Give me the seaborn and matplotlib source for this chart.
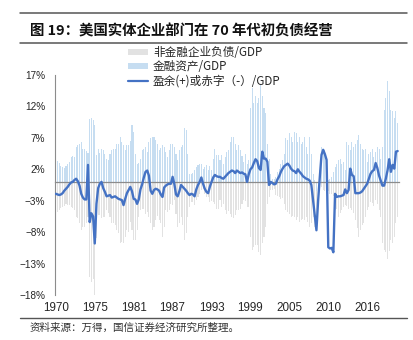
import numpy as np
import pandas as pd
import matplotlib
matplotlib.use("Agg")
import matplotlib.pyplot as plt
import seaborn as sns
from matplotlib.patches import Patch
from matplotlib.lines import Line2D
from matplotlib.font_manager import FontProperties

# Quarterly series, 1970Q1 onwards, in % of GDP
liabilities = [
    -4.8, -4.8, -4.5, -4.2,   # 1970
    -4.0, -3.8, -3.5, -3.7,
    -3.7, -4.0, -4.2, -4.5,
    -5.6, -5.8, -6.6, -7.7,
    -7.2, -7.2, -6.6, -5.6,
    -15.2, -16.0, -15.5, -18.2,  # 1975
    -9.0, -5.3, -5.3, -5.8,
    -5.6, -5.6, -4.5, -5.0,
    -5.6, -6.6, -6.6, -6.8,
    -7.7, -8.2, -9.8, -9.6,
    -9.8, -8.8, -7.7, -8.0,   # 1980
    -6.4, -7.7, -9.3, -9.3,
    -7.7, -5.6, -4.5, -4.3,
    -4.3, -5.1, -4.8, -5.6,
    -6.6, -7.7, -7.2, -6.1,
    -5.5, -6.1, -6.6, -8.8,   # 1985
    -7.2, -4.5, -4.8, -4.5,
    -3.5, -3.7, -2.9, -5.1,
    -7.2, -6.6, -5.6, -6.9,
    -9.3, -8.2, -5.6, -4.0,
    -3.2, -3.2, -3.7, -2.9,   # 1990
    -2.4, -1.9, -1.3, -1.1,
    -2.0, -2.4, -2.4, -3.2,
    -3.0, -3.2, -3.5, -4.3,
    -4.3, -2.9, -4.0, -3.5,
    -4.5, -5.1, -4.6, -5.1,   # 1995
    -5.6, -5.8, -5.3, -4.5,
    -4.5, -4.3, -3.5, -2.9,
    -3.1, -4.0, -4.0, -8.8,
    -10.9, -10.4, -10.1, -10.0,
    -11.2, -11.7, -9.8, -8.8,  # 2000
    -7.2, -3.5, -2.4, -1.3,
    -1.3, -1.2, -2.1, -2.2,
    -2.4, -2.7, -2.5, -3.5,
    -4.5, -4.8, -5.1, -5.6,
    -5.4, -5.6, -6.1, -5.6,   # 2005
    -6.4, -6.1, -5.9, -6.1,
    -5.6, -6.4, -7.2, -6.6,
    -5.6, -7.2, -7.4, -2.4,
    -0.8, -0.8, -1.3, -1.5,
    -0.8, -1.5, -2.0, -2.0,   # 2010
    -2.2, -4.5, -4.3, -5.6,
    -5.0, -4.5, -4.0, -3.7,
    -3.9, -4.3, -4.1, -4.5,
    -5.0, -6.0, -7.4, -8.8,
    -7.7, -6.9, -6.6, -5.6,   # 2015
    -4.5, -4.0, -3.2, -3.4,
    -3.8, -2.9, -3.5, -4.5,
    -5.6, -9.8, -10.9, -11.2,
    -12.2, -11.0, -9.3, -9.8,
    -8.8, -6.6, -5.6,         # 2020
]

fin_assets = [
    3.5, 3.3, 3.0, 2.6,       # 1970
    2.4, 2.2, 2.5, 2.9,
    3.2, 3.9, 4.1, 4.0,
    5.5, 5.8, 6.0, 6.3,
    5.3, 5.2, 4.9, 4.6,
    10.0, 10.2, 9.8, 9.0,     # 1975
    4.2, 5.3, 4.6, 5.2,
    5.0, 4.4, 3.7, 3.5,
    4.5, 5.0, 5.3, 5.3,
    6.1, 6.1, 7.2, 6.4,
    5.8, 5.1, 5.9, 5.9,       # 1980
    6.5, 9.0, 8.0, 4.5,
    2.9, 3.0, 3.7, 5.0,
    5.3, 5.6, 4.8, 6.4,
    6.9, 7.2, 7.2, 6.6,
    6.1, 5.1, 5.4, 5.9,       # 1985
    5.5, 4.8, 4.0, 5.0,
    6.0, 6.0, 5.6, 4.5,
    3.5, 5.0, 5.6, 5.9,
    8.5, 8.2, 4.5, 1.3,
    1.3, 1.4, 1.9, 2.4,       # 1990
    2.7, 2.9, 2.9, 2.1,
    2.4, 2.7, 1.9, 2.6,
    1.9, 3.7, 5.2, 4.3,
    4.3, 3.5, 4.3, 2.9,
    4.0, 4.8, 5.0, 6.4,       # 1995
    7.2, 7.2, 6.1, 5.0,
    5.9, 5.0, 4.1, 3.2,
    4.5, 2.9, 3.5, 11.8,
    14.9, 12.5, 13.6, 12.5,
    13.3, 15.4, 13.6, 11.7,   # 2000
    10.9, 6.1, 3.7, 1.3,
    0.5, 0.5, 0.7, 1.6,
    2.1, 2.9, 3.5, 4.5,
    6.9, 6.6, 7.7, 7.2,
    6.4, 8.0, 7.7, 6.4,       # 2005
    7.2, 6.1, 6.4, 7.2,
    5.6, 4.5, 7.2, 4.5,
    1.3, 0.3, -1.5, -2.0,
    1.9, 5.6, 5.3, 5.1,
    3.5, 0.3, 0.4, 0.8,       # 2010
    1.5, 2.4, 2.9, 3.5,
    3.7, 2.9, 3.2, 1.9,
    6.4, 5.9, 5.1, 6.4,
    5.6, 6.1, 6.6, 7.4,
    6.1, 5.3, 5.1, 5.3,       # 2015
    3.2, 4.5, 4.8, 5.3,
    4.0, 4.8, 5.6, 5.3,
    3.7, 5.6, 11.4, 13.3,
    16.0, 14.4, 11.4, 11.2,
    10.1, 11.2, 9.3,          # 2020
]

surplus = [
    -1.9, -2.0, -2.1, -2.0,   # 1970
    -1.8, -1.4, -1.1, -0.8,
    -0.4, -0.1, 0.0, 0.3,
    0.5, 0.1, -0.6, -1.9,
    -2.5, -2.8, -2.8, 2.7,
    -6.4, -5.0, -5.5, -9.8,   # 1975
    -3.5, -1.0, -0.3, 0.0,
    -1.0, -1.6, -2.3, -2.2,
    -2.1, -2.5, -2.4, -2.3,
    -2.5, -2.7, -2.8, -2.9,
    -3.7, -2.7, -1.8, -1.3,   # 1980
    -0.8, -1.5, -2.7, -2.8,
    -3.5, -2.8, -1.2, -0.4,
    0.7, 1.6, 1.8, 1.0,
    -1.4, -1.9, -1.3, -1.1,
    -1.2, -1.4, -2.0, -2.4,   # 1985
    -0.9, -0.6, -0.4, -0.3,
    -0.3, 0.8, -0.3, -2.0,
    -2.3, -1.5, -0.5, -0.8,
    -1.1, -1.4, -1.8, -2.1,
    -1.9, -2.0, -2.3, -1.2,   # 1990
    -0.5, 0.0, 0.7, -0.3,
    -1.1, -1.6, -1.8, -0.8,
    0.0, 0.7, 1.1, 0.9,
    0.8, 0.8, 0.6, 0.5,
    0.8, 1.1, 1.4, 1.6,       # 1995
    1.8, 1.7, 1.4, 1.8,
    1.6, 1.4, 1.5, 1.3,
    1.2, 0.0, 1.2, 2.0,
    2.3, 3.0, 3.6, 3.3,
    2.2, 1.9, 4.8, 3.7,       # 2000
    3.7, 3.2, -0.5, 0.0,
    -0.2, -0.4, -0.3, 0.4,
    0.9, 1.6, 2.1, 2.5,
    2.7, 2.9, 2.6, 2.1,
    1.8, 1.7, 1.4, 2.0,       # 2005
    1.6, 1.3, 0.9, 0.7,
    0.5, 0.4, 0.2, -0.5,
    -2.9, -5.2, -7.7, -3.0,
    0.8, 4.3, 5.1, 4.4,
    3.5, -10.4, -10.6, -10.5,  # 2010
    -11.2, -1.9, -2.4, -2.3,
    -2.3, -2.2, -2.1, -1.2,
    -1.8, -1.3, 2.1, 1.1,
    0.9, -1.8, -1.8, -1.8,
    -1.7, -1.5, -1.1, -0.7,   # 2015
    -0.3, 0.5, 1.3, 1.7,
    1.9, 3.0, 2.2, 1.0,
    0.2, -0.6, -0.6, 0.5,
    1.8, 3.6, 1.6, 2.7,
    2.1, 4.8, 4.9,            # 2020
]

tick_labels = ["1970", "1975", "1981", "1987", "1993", "1999", "2005", "2010", "2016"]
tick_step = 23  # quarters between labelled ticks
y_ticks = [17, 12, 7, 2, -3, -8, -13, -18]

series_names = ["非金融企业负债/GDP", "金融资产/GDP", "盈余(+)或赤字（-）/GDP"]
title = "图 19：美国实体企业部门在 70 年代初负债经营"
source = "资料来源：万得，国信证券经济研究所整理。"

GRAY = "#e2e2e2"
BLUE = "#c6ddf1"
LINE = "#4472c4"
AXIS = "#8c8c8c"

sns.set_style("white")
plt.rcParams["font.family"] = ["Liberation Sans", "Noto Sans CJK SC"]
CJK = ["Noto Sans CJK SC", "DejaVu Sans"]

n = len(surplus)
df = pd.DataFrame({
    "q": np.arange(n),
    "liab": liabilities,
    "assets": fin_assets,
    "surplus": surplus,
})

W, H = 413, 340
fig = plt.figure(figsize=(W / 100, H / 100), dpi=100)
ax = fig.add_axes([55 / W, 45 / H, 343.5 / W, 220 / H])

sns.barplot(data=df, x="q", y="liab", native_scale=True, color=GRAY, width=0.62,
            errorbar=None, saturation=1, linewidth=0, ax=ax)
sns.barplot(data=df, x="q", y="assets", native_scale=True, color=BLUE, width=0.62,
            errorbar=None, saturation=1, linewidth=0, ax=ax)
sns.lineplot(data=df, x="q", y="surplus", color=LINE, linewidth=1.7, ax=ax, zorder=5)

ax.set_xlim(-0.5, n - 0.5)
ax.set_ylim(-18, 17)
ax.set_xlabel("")
ax.set_ylabel("")

ax.set_yticks(y_ticks)
ax.set_yticklabels([f"{v}%".replace("-", "\u2212") for v in y_ticks])
ax.tick_params(axis="y", length=2.4, width=0.8, color=AXIS, pad=4.5, labelsize=7.2)

for side in ("top", "right"):
    ax.spines[side].set_visible(False)
ax.spines["left"].set_color(AXIS)
ax.spines["left"].set_linewidth(0.8)
ax.spines["bottom"].set_position(("data", 0))
ax.spines["bottom"].set_color(AXIS)
ax.spines["bottom"].set_linewidth(0.9)
ax.spines["bottom"].set_zorder(4)

tick_pos = [i * tick_step for i in range(len(tick_labels))]
ax.set_xticks(tick_pos)
ax.tick_params(axis="x", length=2.4, width=0.8, color=AXIS, labelbottom=False)

sec = ax.secondary_xaxis("bottom")
sec.set_xticks(tick_pos, labels=tick_labels)
sec.tick_params(length=0, pad=5, labelsize=8.4)
sec.spines["bottom"].set_visible(False)

handles = [
    Patch(facecolor=GRAY, edgecolor="none"),
    Patch(facecolor=BLUE, edgecolor="none"),
    Line2D([0], [0], color=LINE, lw=1.6),
]
leg = fig.legend(handles, series_names, loc="upper left",
                 bbox_to_anchor=(128 / W, 1 - 46.5 / H), frameon=False,
                 prop=FontProperties(family=CJK, size=8.4),
                 handlelength=1.7, handleheight=0.45, handletextpad=0.45,
                 labelspacing=0.08, borderpad=0, borderaxespad=0)
leg.set_zorder(10)

fig.text(30 / W, 1 - 31.5 / H, title, fontsize=10.4, fontweight="bold",
         family=CJK, va="center", ha="left", color="#111111")
fig.text(30 / W, 1 - 328 / H, source, fontsize=7.6, family=CJK,
         va="center", ha="left", color="#333333")

for yy in (13.3, 42.7):
    fig.add_artist(Line2D([20 / W, 407 / W], [1 - yy / H] * 2,
                          transform=fig.transFigure, color="#555555", lw=1.1))
fig.add_artist(Line2D([20 / W, 407 / W], [1 - 317.7 / H] * 2,
                      transform=fig.transFigure, color="#555555", lw=1.0))

fig.savefig("out.png", dpi=100)
